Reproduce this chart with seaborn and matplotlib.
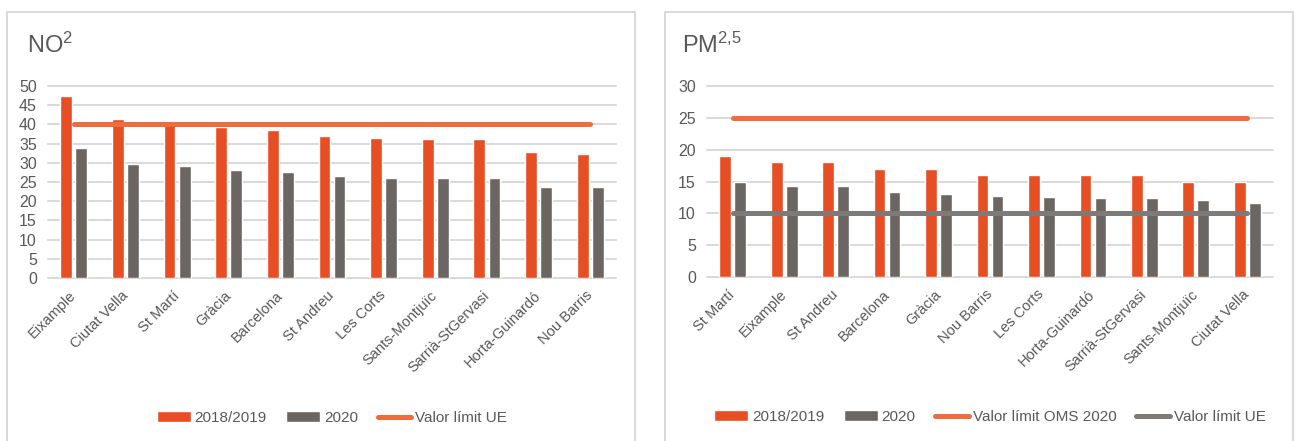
"""Two grouped bar charts of NO2 and PM2.5 levels by Barcelona district."""

import matplotlib
matplotlib.use("Agg")
import matplotlib.pyplot as plt
import numpy as np
import pandas as pd
import seaborn as sns
from matplotlib.patches import Rectangle

# NO2 panel
no2_districts = ["Eixample", "Ciutat Vella", "St Martí", "Gràcia", "Barcelona",
                 "St Andreu", "Les Corts", "Sants-Montjuïc", "Sarrià-StGervasi",
                 "Horta-Guinardó", "Nou Barris"]
no2_2018_2019 = [47.4, 41.3, 39.9, 39.2, 38.6, 37.0, 36.5, 36.2, 36.2, 32.8, 32.4]
no2_2020 = [33.8, 29.7, 29.1, 28.2, 27.6, 26.6, 26.1, 26.1, 26.1, 23.6, 23.6]
no2_limit_ue = 40

# PM2.5 panel
pm_districts = ["St Martí", "Eixample", "St Andreu", "Barcelona", "Gràcia",
                "Nou Barris", "Les Corts", "Horta-Guinardó", "Sarrià-StGervasi",
                "Sants-Montjuïc", "Ciutat Vella"]
pm_2018_2019 = [19.0, 18.0, 18.0, 17.0, 17.0, 16.0, 16.0, 16.0, 16.0, 15.0, 15.0]
pm_2020 = [15.0, 14.3, 14.3, 13.3, 13.1, 12.7, 12.5, 12.4, 12.4, 12.1, 11.6]
pm_limit_oms = 25
pm_limit_ue = 10

periods = ["2018/2019", "2020"]

RED = "#E84E24"
DARK = "#6B6662"
ORANGE = "#EE6C3E"
GREY_LINE = "#7E7A77"
GRID = "#D9D9D9"
TEXT = "#595959"

sns.set_theme(style="white")
plt.rcParams["font.family"] = ["Liberation Sans", "DejaVu Sans"]
plt.rcParams["mathtext.default"] = "regular"

W, H = 1295, 441
fig = plt.figure(figsize=(W / 100, H / 100), dpi=100)


def px_axes(x0, x1, y_top, y_bottom):
    return fig.add_axes([x0 / W, (H - y_bottom) / H, (x1 - x0) / W, (y_bottom - y_top) / H])


def draw_panel(ax, districts, first, second, ymax, limits, legend_y):
    df = pd.DataFrame({
        "district": districts * 2,
        "period": [periods[0]] * len(districts) + [periods[1]] * len(districts),
        "value": first + second,
    })
    sns.barplot(data=df, x="district", y="value", hue="period", order=districts,
                hue_order=periods, palette=[RED, DARK], saturation=1,
                width=0.585, gap=0.22, legend=False, ax=ax, zorder=2)
    pos = np.arange(len(districts))
    handles = list(ax.containers[:2])
    labels = list(periods)
    for value, color, label in limits:
        (ln,) = ax.plot(pos, np.full(len(pos), value), color=color, lw=3.6,
                        solid_capstyle="round", zorder=3)
        handles.append(ln)
        labels.append(label)

    # ax.plot re-autoscales, so pin the categorical range again
    ax.set_xlim(-0.5, len(districts) - 0.5)
    ax.set_ylim(0, ymax)
    ax.set_yticks(np.arange(0, ymax + 1, 5))
    ax.set_xlabel("")
    ax.set_ylabel("")
    ax.set_axisbelow(True)
    ax.yaxis.grid(True, color=GRID, lw=1.4)
    for gl in ax.get_ygridlines():
        gl.set_clip_on(False)
    sns.despine(ax=ax, left=True, bottom=True)
    ax.tick_params(axis="y", length=0, pad=8, labelsize=11.5, labelcolor=TEXT)
    ax.tick_params(axis="x", length=0, pad=11, labelsize=10.5, labelcolor=TEXT)
    for lbl in ax.get_xticklabels():
        lbl.set_rotation(45)
        lbl.set_ha("right")
        lbl.set_va("center")
        lbl.set_rotation_mode("anchor")

    ax.legend(handles, labels, loc="center", bbox_to_anchor=(0.5, legend_y),
              ncol=len(labels), frameon=False, fontsize=11, labelcolor=TEXT,
              handlelength=2.2, handletextpad=0.25, columnspacing=1.3)


# panel frames
for x0, x1 in [(7, 635), (665, 1293)]:
    fig.patches.append(Rectangle((x0 / W, -0.05), (x1 - x0) / W, (H - 12) / H + 0.05,
                                 transform=fig.transFigure, fill=False,
                                 edgecolor=GRID, lw=1.4))

ax1 = px_axes(48, 616, 86, 278)
draw_panel(ax1, no2_districts, no2_2018_2019, no2_2020, 50,
           [(no2_limit_ue, ORANGE, "Valor límit UE")], -0.729)

ax2 = px_axes(707, 1273, 86, 277)
draw_panel(ax2, pm_districts, pm_2018_2019, pm_2020, 30,
           [(pm_limit_oms, ORANGE, "Valor límit OMS 2020"),
            (pm_limit_ue, GREY_LINE, "Valor límit UE")], -0.734)

# titles with superscripts
fig.text(27 / W, (H - 53) / H, "NO$^{2}$", fontsize=17, color=TEXT,
         ha="left", va="baseline")
fig.text(682 / W, (H - 53) / H, "PM$^{2{,}5}$", fontsize=17, color=TEXT,
         ha="left", va="baseline")

fig.savefig("out.png", dpi=100)
